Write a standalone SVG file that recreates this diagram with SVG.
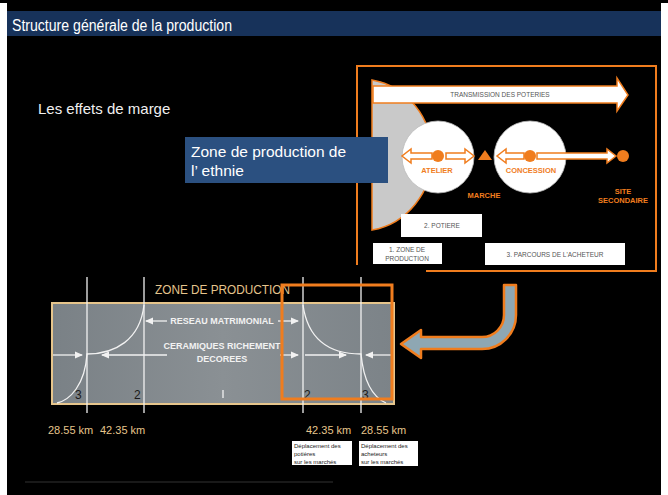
<svg xmlns="http://www.w3.org/2000/svg" width="668" height="495" viewBox="0 0 668 495">
<defs>
<style>
.sans{font-family:"Liberation Sans",Arial,sans-serif}
.or{fill:#f07d1e}
.wl{stroke:#f2f2f2;stroke-width:1.3;fill:none}
.lbl{font-family:"Liberation Sans",Arial,sans-serif;font-size:6.5px;fill:#555;text-anchor:middle}
.olbl{font-family:"Liberation Sans",Arial,sans-serif;font-size:7.5px;font-weight:bold;fill:#f07d1e;text-anchor:middle}
.km{font-family:"Liberation Sans",Arial,sans-serif;font-size:11px;fill:#e6c58c}
.num{font-family:"Liberation Sans",Arial,sans-serif;font-size:12px;fill:#1a1a1a}
.cap{font-family:"Liberation Sans",Arial,sans-serif;font-size:6px;fill:#222}
.bw{font-family:"Liberation Sans",Arial,sans-serif;font-size:9px;font-weight:bold;fill:#f2f2f2;text-anchor:middle}
</style>
<linearGradient id="gr" x1="0" y1="0" x2="1" y2="0">
<stop offset="0" stop-color="#7a8186"/>
<stop offset="0.5" stop-color="#8a9094"/>
<stop offset="1" stop-color="#7c8388"/>
</linearGradient>
<marker id="ah" viewBox="0 0 8 8" refX="7" refY="4" markerWidth="6.5" markerHeight="6.5" orient="auto-start-reverse">
<path d="M0,0.5 L8,4 L0,7.5 Z" fill="#f2f2f2"/>
</marker>
</defs>
<rect width="668" height="495" fill="#ffffff"/>
<rect x="0" y="0" width="668" height="3" fill="#000"/>
<rect x="7" y="3" width="654" height="492" fill="#000"/>
<g id="title">
<rect x="7" y="11" width="654" height="25" fill="#17325a"/>
<text x="12" y="31" class="sans" font-size="16" fill="#fff" textLength="220" lengthAdjust="spacingAndGlyphs">Structure générale de la production</text>
</g>
<g id="subtitle">
<text x="38" y="114" class="sans" font-size="15" fill="#f0f0f0">Les effets de marge</text>
</g>
<g id="upper-figure">
<path d="M426,271 H656 V66 H357 V265" fill="none" stroke="#f07d1e" stroke-width="2"/>
<path d="M372,80 A72,76 0 0 1 372,230 Z" fill="#c9c9c9" stroke="#f07d1e" stroke-width="1.5"/>
<g id="transmission">
<path d="M373,86 H617 V78 L628,95 L617,111 V103 H373 Z" fill="#fff" stroke="#f07d1e" stroke-width="1.5"/>
<text x="500" y="97" class="lbl">TRANSMISSION DES POTERIES</text>
</g>
<g id="atelier">
<circle cx="438" cy="157" r="36" fill="#fff" stroke="#bbb" stroke-width="0.8"/>
<path d="M432,153 H411 V149 L402,156 L411,163 V159 H432 Z" fill="#fff" stroke="#f07d1e" stroke-width="1.5"/>
<path d="M446,153 H465 V149 L474,156 L465,163 V159 H446 Z" fill="#fff" stroke="#f07d1e" stroke-width="1.5"/>
<circle cx="438" cy="156" r="6" class="or"/>
<text x="437" y="173" class="olbl">ATELIER</text>
</g>
<g id="marche">
<path d="M478,160 L485,150 L492,160 Z" class="or"/>
<text x="484" y="198" class="olbl" fill="#e07818">MARCHE</text>
</g>
<g id="concession">
<circle cx="530" cy="157" r="36" fill="#fff" stroke="#bbb" stroke-width="0.8"/>
<path d="M524,153 H506 V149 L497,156 L506,163 V159 H524 Z" fill="#fff" stroke="#f07d1e" stroke-width="1.5"/>
<path d="M537,153 H607 V149 L616,156 L607,163 V159 H537 Z" fill="#fff" stroke="#f07d1e" stroke-width="1.5"/>
<circle cx="530" cy="156" r="6" class="or"/>
<text x="531" y="173" class="olbl">CONCESSION</text>
</g>
<g id="site-secondaire">
<circle cx="623" cy="156" r="6" class="or"/>
<text x="623" y="194" class="olbl">SITE</text>
<text x="623" y="203" class="olbl">SECONDAIRE</text>
</g>
<g id="potiere">
<rect x="401" y="214" width="81" height="23" fill="#fff"/>
<text x="442" y="228" class="lbl">2. POTIERE</text>
</g>
<g id="zone-prod">
<rect x="373" y="243" width="69" height="21" fill="#fff"/>
<text x="407" y="252" class="lbl">1. ZONE DE</text>
<text x="407" y="261" class="lbl">PRODUCTION</text>
</g>
<g id="parcours">
<rect x="485" y="243" width="140" height="22" fill="#fff"/>
<text x="555" y="257" class="lbl">3. PARCOURS DE L'ACHETEUR</text>
</g>
</g>
<g id="zone-ethnie">
<rect x="185" y="137" width="203" height="46" fill="#2b5080"/>
<text x="191" y="157" class="sans" font-size="15.5" fill="#fff">Zone de production de</text>
<text x="191" y="176" class="sans" font-size="15.5" fill="#fff">l’ ethnie</text>
</g>
<g id="lower-figure">
<rect x="52" y="303" width="342" height="101" fill="url(#gr)" stroke="#e6c58c" stroke-width="2"/>
<text x="155" y="294" class="sans" font-size="12" fill="#e6c58c" textLength="135" lengthAdjust="spacingAndGlyphs">ZONE DE PRODUCTION</text>
<line x1="87" y1="277" x2="87" y2="413" class="wl"/>
<line x1="144" y1="277" x2="144" y2="413" class="wl"/>
<line x1="303" y1="277" x2="303" y2="413" class="wl"/>
<line x1="361" y1="277" x2="361" y2="413" class="wl"/>
<path d="M144,305 C140,340 115,354 87,354 C85,385 70,400 57,403" class="wl"/>
<path d="M303,305 C308,340 330,354 361,354 C364,385 375,398 386,403" class="wl"/>
<text x="222" y="324" class="bw">RESEAU MATRIMONIAL</text>
<text x="222" y="349" class="bw">CERAMIQUES RICHEMENT</text>
<text x="222" y="362" class="bw">DECOREES</text>
<text x="75" y="399" class="num">3</text>
<text x="134" y="399" class="num">2</text>
<line x1="223" y1="390" x2="223" y2="398" stroke="#f2f2f2" stroke-width="1.3"/>
<text x="304" y="399" class="num">2</text>
<text x="362" y="399" class="num">3</text>
</g>
<g id="connectors">
<line x1="146" y1="321" x2="167" y2="321" class="wl" marker-start="url(#ah)"/>
<line x1="278" y1="321" x2="298" y2="321" class="wl" marker-end="url(#ah)"/>
<line x1="53" y1="355" x2="82" y2="355" class="wl" marker-end="url(#ah)"/>
<line x1="102" y1="355" x2="167" y2="355" class="wl" marker-start="url(#ah)"/>
<line x1="280" y1="355" x2="298" y2="355" class="wl" marker-end="url(#ah)"/>
<line x1="305" y1="355" x2="346" y2="355" class="wl" marker-end="url(#ah)"/>
<line x1="366" y1="355" x2="393" y2="355" class="wl" marker-start="url(#ah)"/>
<path d="M504,285 H516 V315 A34,34 0 0 1 482,349 H421 V358 L401,344 L421,330 V337 H482 A22,22 0 0 0 504,315 Z" fill="#8ea7b3" stroke="#f07d1e" stroke-width="2.5" stroke-linejoin="round"/>
</g>
<g id="highlight">
<rect x="282" y="285" width="110" height="114" fill="none" stroke="#f07d1e" stroke-width="3"/>
</g>
<g id="km-labels">
<text x="48" y="434" class="km">28.55 km</text>
<text x="100" y="434" class="km">42.35 km</text>
<text x="306" y="434" class="km">42.35 km</text>
<text x="361" y="434" class="km">28.55 km</text>
</g>
<g id="caption-potieres">
<rect x="292" y="441" width="60" height="24" fill="#fff"/>
<text x="294" y="448" class="cap">Déplacement des</text>
<text x="294" y="456" class="cap">potières</text>
<text x="294" y="464" class="cap">sur les marchés</text>
</g>
<g id="caption-acheteurs">
<rect x="359" y="441" width="59" height="25" fill="#fff"/>
<text x="361" y="448" class="cap">Déplacement des</text>
<text x="361" y="456" class="cap">acheteurs</text>
<text x="361" y="464" class="cap">sur les marchés</text>
</g>
<line x1="25" y1="482" x2="333" y2="482" stroke="#333" stroke-width="1"/>
</svg>
